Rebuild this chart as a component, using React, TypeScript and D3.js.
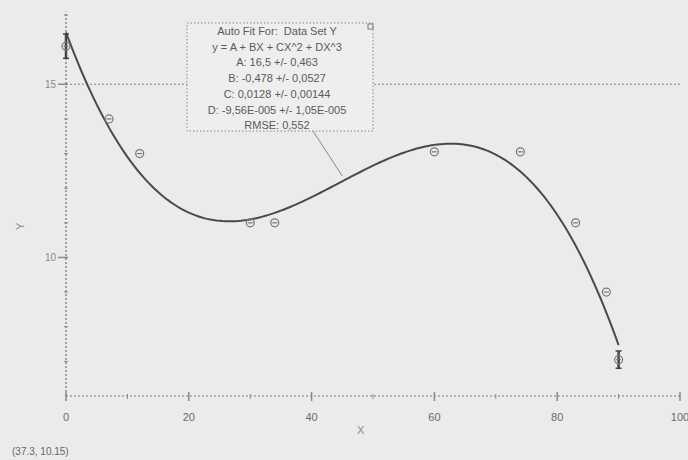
import React, { useEffect, useRef } from "react";
import * as d3 from "d3";

const xValues = [0, 7, 12, 30, 34, 60, 74, 83, 88, 90];
const yValues = [16.1, 14.0, 13.0, 11.0, 11.0, 13.05, 13.05, 11.0, 9.0, 7.05];
const errValues = [0.35, 0, 0, 0, 0, 0, 0, 0, 0, 0.25];
const fitCoefs = [16.5, -0.478, 0.0128, -9.56e-5];
const xTickLabels = [0, 20, 40, 60, 80, 100];
const yTickLabels = [10, 15];
const boxLines = [
  "Auto Fit For:  Data Set Y",
  "y = A + BX + CX^2 + DX^3",
  "A: 16,5 +/- 0,463",
  "B: -0,478 +/- 0,0527",
  "C: 0,0128 +/- 0,00144",
  "D: -9,56E-005 +/- 1,05E-005",
  "RMSE: 0,552",
];

const W = 688;
const H = 460;

export default function App() {
  const ref = useRef<SVGSVGElement>(null);
  useEffect(() => {
    const svg = d3.select(ref.current);
    svg.selectAll("*").remove();
    const x = d3.scaleLinear().domain([0, 100]).range([66, 680]);
    const y = d3.scaleLinear().domain([6, 17]).range([396, 15]);
    const ink = "#6a6a6a";
    const font = "Liberation Sans, Arial, sans-serif";

    svg.append("rect").attr("width", W).attr("height", H).attr("fill", "#ebebeb");

    // gridline at 15
    svg.append("line")
      .attr("x1", x(0)).attr("x2", x(100)).attr("y1", y(15)).attr("y2", y(15))
      .attr("stroke", "#888").attr("stroke-dasharray", "2,2").attr("stroke-width", 1);

    // axes
    svg.append("line")
      .attr("x1", x(0)).attr("x2", x(100)).attr("y1", y(6)).attr("y2", y(6))
      .attr("stroke", "#777").attr("stroke-dasharray", "2,2");
    svg.append("line")
      .attr("x1", x(0)).attr("x2", x(0)).attr("y1", y(6)).attr("y2", y(17.1))
      .attr("stroke", "#777").attr("stroke-dasharray", "2,2").attr("stroke-width", 1.3);

    // x ticks
    d3.range(0, 101, 10).forEach((v) => {
      const major = v % 20 === 0;
      svg.append("line")
        .attr("x1", x(v)).attr("x2", x(v))
        .attr("y1", y(6) - (major ? 4 : 2)).attr("y2", y(6) + (major ? 5 : 3))
        .attr("stroke", "#888").attr("stroke-width", major ? 1.5 : 1);
    });
    svg.selectAll(".xl").data(xTickLabels).enter().append("text")
      .attr("x", (d) => x(d)).attr("y", 421)
      .attr("text-anchor", "middle").attr("font-family", font).attr("font-size", 11)
      .attr("fill", ink).text((d) => d);

    // y ticks
    d3.range(7, 18, 1).forEach((v) => {
      const major = yTickLabels.includes(v);
      svg.append("line")
        .attr("x1", x(0) - (major ? 8 : 2)).attr("x2", x(0) + 2)
        .attr("y1", y(v)).attr("y2", y(v))
        .attr("stroke", "#888").attr("stroke-width", major ? 1.5 : 1);
    });
    svg.selectAll(".yl").data(yTickLabels).enter().append("text")
      .attr("x", x(0) - 10).attr("y", (d) => y(d) + 4)
      .attr("text-anchor", "end").attr("font-family", font).attr("font-size", 10)
      .attr("fill", "#888").text((d) => d);

    // axis titles
    svg.append("text").attr("x", x(48)).attr("y", 434).attr("text-anchor", "middle")
      .attr("font-family", font).attr("font-size", 11).attr("fill", "#888").text("X");
    svg.append("text").attr("transform", `translate(24,${y(10.9)}) rotate(-90)`)
      .attr("text-anchor", "middle").attr("font-family", font).attr("font-size", 11)
      .attr("fill", "#888").text("Y");

    // leader line
    svg.append("line").attr("x1", 313).attr("y1", 131).attr("x2", x(45)).attr("y2", y(12.35))
      .attr("stroke", "#888").attr("stroke-width", 1);

    // fit curve
    const fx = (v: number) => fitCoefs[0] + fitCoefs[1] * v + fitCoefs[2] * v * v + fitCoefs[3] * v * v * v;
    const xs = d3.range(0, 90.01, 0.5);
    const line = d3.line<number>().x((d) => x(d)).y((d) => y(fx(d))).curve(d3.curveLinear);
    svg.append("path").attr("d", line(xs) as string).attr("fill", "none")
      .attr("stroke", "#4a4a4a").attr("stroke-width", 2);

    // data points
    const pts = xValues.map((v, i) => ({ x: v, y: yValues[i], e: errValues[i] }));
    pts.forEach((p) => {
      const cx = x(p.x), cy = y(p.y);
      if (p.e > 0) {
        svg.append("line").attr("x1", cx).attr("x2", cx).attr("y1", y(p.y + p.e)).attr("y2", y(p.y - p.e))
          .attr("stroke", "#444").attr("stroke-width", 2.5);
        [p.y + p.e, p.y - p.e].forEach((yy) => {
          svg.append("line").attr("x1", cx - 3).attr("x2", cx + 3).attr("y1", y(yy)).attr("y2", y(yy))
            .attr("stroke", "#444").attr("stroke-width", 1.5);
        });
      }
      svg.append("circle").attr("cx", cx).attr("cy", cy).attr("r", 4)
        .attr("fill", "none").attr("stroke", "#777").attr("stroke-width", 1.2);
      svg.append("line").attr("x1", cx - 2.5).attr("x2", cx + 2.5).attr("y1", cy).attr("y2", cy)
        .attr("stroke", "#777").attr("stroke-width", 1.2);
    });

    // annotation box
    const bx = 187, by = 23, bw = 186, bh = 108;
    svg.append("rect").attr("x", bx).attr("y", by).attr("width", bw).attr("height", bh)
      .attr("fill", "#eeeeee").attr("stroke", "#888").attr("stroke-dasharray", "1.5,2");
    svg.append("rect").attr("x", bx + bw - 5).attr("y", by + 1).attr("width", 5).attr("height", 5)
      .attr("fill", "none").attr("stroke", "#777");
    svg.selectAll(".bl").data(boxLines).enter().append("text")
      .attr("x", bx + bw / 2 - 3).attr("y", (_d, i) => by + 12 + i * 15.7)
      .attr("text-anchor", "middle").attr("font-family", font).attr("font-size", 11)
      .attr("fill", "#5a5a5a").style("white-space", "pre").text((d) => d);

    // status text
    svg.append("text").attr("x", 12).attr("y", 455).attr("font-family", font).attr("font-size", 10)
      .attr("fill", "#666").text("(37.3, 10.15)");
  }, []);
  return (
    <svg ref={ref} width={W} height={H} style={{ position: "absolute", left: 0, top: 0 }} />
  );
}
